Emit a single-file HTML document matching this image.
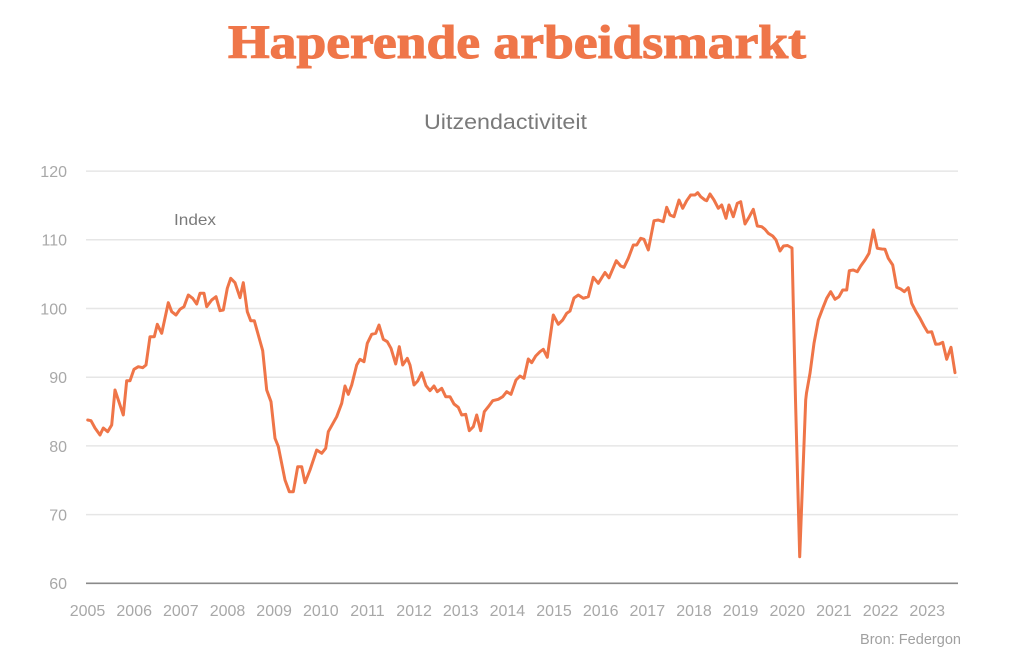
<!DOCTYPE html>
<html>
<head>
<meta charset="utf-8">
<style>
html,body{margin:0;padding:0;background:#fff;}
svg{display:block;}
</style>
</head>
<body>
<svg width="1024" height="661" viewBox="0 0 1024 661" xmlns="http://www.w3.org/2000/svg">
<rect width="1024" height="661" fill="#ffffff"/>
<text x="228" y="58" font-family="'Liberation Serif', serif" font-weight="bold" font-size="48" fill="#ef7649" stroke="#ef7649" stroke-width="1.1" textLength="578" lengthAdjust="spacingAndGlyphs">Haperende arbeidsmarkt</text>
<text x="424" y="129" font-family="'Liberation Sans', sans-serif" font-size="21" fill="#7a7a7a" textLength="163" lengthAdjust="spacingAndGlyphs">Uitzendactiviteit</text>
<text x="174" y="225" font-family="'Liberation Sans', sans-serif" font-size="16" fill="#7a7a7a" textLength="42" lengthAdjust="spacingAndGlyphs">Index</text>
<g stroke="#e6e6e6" stroke-width="1.5">
<line x1="86" y1="171.1" x2="958" y2="171.1"/>
<line x1="86" y1="239.8" x2="958" y2="239.8"/>
<line x1="86" y1="308.5" x2="958" y2="308.5"/>
<line x1="86" y1="377.2" x2="958" y2="377.2"/>
<line x1="86" y1="445.9" x2="958" y2="445.9"/>
<line x1="86" y1="514.6" x2="958" y2="514.6"/>
</g>
<line x1="86" y1="583.3" x2="958" y2="583.3" stroke="#8a8a8a" stroke-width="1.6"/>
<g font-family="'Liberation Sans', sans-serif" font-size="16" fill="#a8a8a8" text-anchor="end">
<text x="67" y="177">120</text>
<text x="67" y="245.7">110</text>
<text x="67" y="314.4">100</text>
<text x="67" y="383.1">90</text>
<text x="67" y="451.8">80</text>
<text x="67" y="520.5">70</text>
<text x="67" y="589.2">60</text>
</g>
<g font-family="'Liberation Sans', sans-serif" font-size="16" fill="#a8a8a8" text-anchor="middle">
<text x="87.5" y="616">2005</text>
<text x="134.2" y="616">2006</text>
<text x="180.8" y="616">2007</text>
<text x="227.5" y="616">2008</text>
<text x="274.1" y="616">2009</text>
<text x="320.8" y="616">2010</text>
<text x="367.4" y="616">2011</text>
<text x="414.1" y="616">2012</text>
<text x="460.7" y="616">2013</text>
<text x="507.4" y="616">2014</text>
<text x="554" y="616">2015</text>
<text x="600.7" y="616">2016</text>
<text x="647.3" y="616">2017</text>
<text x="694" y="616">2018</text>
<text x="740.6" y="616">2019</text>
<text x="787.3" y="616">2020</text>
<text x="833.9" y="616">2021</text>
<text x="880.6" y="616">2022</text>
<text x="927.2" y="616">2023</text>
</g>
<text x="860" y="644" font-family="'Liberation Sans', sans-serif" font-size="15" fill="#a0a0a0" textLength="101" lengthAdjust="spacingAndGlyphs">Bron: Federgon</text>
<polyline fill="none" stroke="#ef7548" stroke-width="3" stroke-linejoin="round" stroke-linecap="round" points="
87.7,420 91,420.7 95,428 100,435 103.3,428 107.7,431.7 111.7,425 115,390 123.3,415 126.7,380.7 130,380.7 134,369.3 138.3,366.7 142.7,367.7 146,365 150,336.7 154.3,336.7 157.3,324.3 161.7,333.3 168.3,302.7 171.7,311.7 176,315 180,309.3 184,306.7 188.3,295 192.7,298.3 196.7,304 200,293.3 204,293.3 206.7,306.7 211.7,300 216,296.7 220,310.7 223.3,310 227.3,288.3 230.7,278.3 235,282.7 240,297.7 243.3,282.7 247.3,311.7 250.7,320.7 254.3,320.7 258.3,335 262.7,350.7 266.7,390 271,401.7 275,438.3 278.3,446.5 285,480 289.3,491.7 293.3,491.7 297.7,466.7 301.7,466.7 305,482.7 310,470 316.7,450 321.7,453.3 325.7,448.3 328.3,431.7 336.7,416.7 341.7,403.3 345,386 348.3,394.3 351.7,385 356.7,365 360,359.3 364,361.7 367.3,343.3 371.7,334.3 375.7,333.3 379,325 383.3,339.3 387.3,341.7 391,348.3 395.7,364 399.3,346.7 402.7,365 407.3,358.3 410,365 414,385 417.7,381 421.7,372.7 426,385.7 430,390.7 434,386 437.3,391.7 441.7,388.3 445.7,396.7 450,396.7 454,404 458.3,407.3 461.7,415 465.7,414.3 469.3,430.7 473.3,426.7 476.7,415 480.7,430.7 484.3,411.7 488.3,406.7 492.7,400.7 498.3,399.3 502.7,396.7 506.7,391.7 511,394.3 516,380 520,376 524,378.3 528.3,359 531.7,362.7 535.7,356 540,351.7 543.3,349.3 547.3,357.3 553.3,315 558.3,324.3 562.7,320 566.7,313.3 570,311 574,298 578.3,295 583.3,298.3 588.3,296.7 593.3,277.3 598.3,283.3 605,272.5 609,277.8 616.3,260.7 620.7,266 624,267.3 628.3,258.3 633.3,245 636.7,245 640.7,238.3 644,239.3 648.3,250 654,220.7 658.3,220 663.3,221.7 666.7,207.3 670,215 674,216.7 679,200 682.7,208.3 686.7,200.7 690.7,195 695,195 697.7,192.7 700.7,196.7 705,200 706.7,200.7 710,194 714,200 718.3,208.3 721.7,205 726,218.3 729,205 733.3,216.7 737.3,203.3 740.7,201.7 745,224 749.3,216.7 753.3,209.3 757.3,226 761.7,226.7 765,229.3 768.3,233.3 772.7,236 776,240 780,251 783.5,246 787.5,245.5 792,248 795.5,400 799.7,556.7 805.7,400 806.5,393 810,373.3 814,343.3 818.3,320 822.7,308.3 826.7,298.3 830.7,291.7 835,299.3 839,296.7 842.7,290 846.7,290 849.3,270.7 853.3,270 857.3,271.7 860.7,266 865,260 869,253.3 873.3,230 877.3,248.3 881.7,249 885,249.3 888.3,258.3 892.7,265 896.7,287.3 900.7,289 904.3,291.7 908.3,287.7 911.7,303.3 916,311.7 920,318.3 924,326 927.7,332.3 931.7,331.7 935.7,344.3 939.3,344 942.7,342.3 946.7,359.3 951,347.3 955,372.7"/>
</svg>
</body>
</html>
